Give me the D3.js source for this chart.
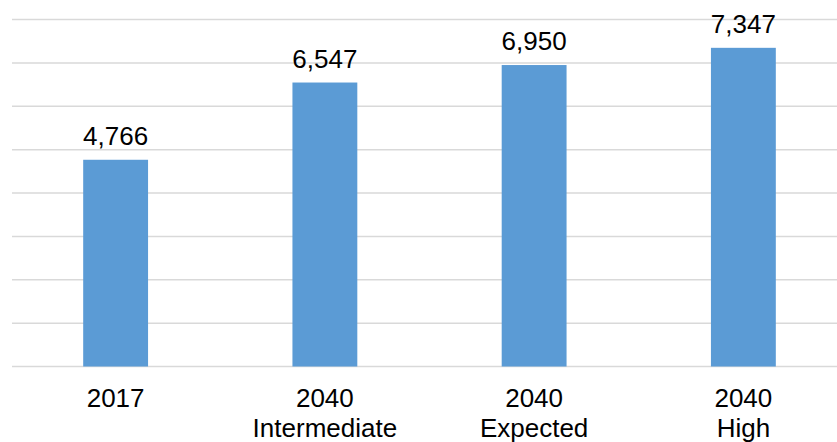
<!DOCTYPE html>
<html>
<head>
<meta charset="utf-8">
<script src="https://cdn.jsdelivr.net/npm/d3@7"></script>
<style>
  html, body { margin: 0; padding: 0; background: #fff; }
  svg { display: block; }
  text { font-family: "Liberation Sans", Arial, sans-serif; fill: #000; }
</style>
</head>
<body>
<svg id="chart" width="837" height="442"></svg>
<script>
// Categories (two-line labels) and values
const categories = ["2017", "2040 Intermediate", "2040 Expected", "2040 High"];
const categoryLines = [["2017"], ["2040", "Intermediate"], ["2040", "Expected"], ["2040", "High"]];
const values = [4766, 6547, 6950, 7347];
const yTicks = [0, 1000, 2000, 3000, 4000, 5000, 6000, 7000, 8000];

const svg = d3.select("#chart");
const W = 837, H = 442;
const plot = { left: 11, right: 848, top: 19.5, bottom: 366.5 };

const x = d3.scaleBand()
  .domain(categories)
  .range([plot.left, plot.right])
  .paddingInner(0.69)
  .paddingOuter(0.345);

const y = d3.scaleLinear()
  .domain([0, 8000])
  .range([plot.bottom, plot.top]);

// Horizontal gridlines
svg.append("g")
  .selectAll("line")
  .data(yTicks)
  .join("line")
  .attr("x1", 12)
  .attr("x2", W)
  .attr("y1", d => y(d))
  .attr("y2", d => y(d))
  .attr("stroke", "#d9d9d9")
  .attr("stroke-width", 1.5);

// Bars
svg.append("g")
  .selectAll("rect")
  .data(values)
  .join("rect")
  .attr("x", (d, i) => x(categories[i]))
  .attr("width", x.bandwidth())
  .attr("y", d => y(d))
  .attr("height", d => y(0) - y(d))
  .attr("fill", "#5b9bd5");

// Value labels
const fmt = d3.format(",");
svg.append("g")
  .selectAll("text")
  .data(values)
  .join("text")
  .attr("x", (d, i) => x(categories[i]) + x.bandwidth() / 2)
  .attr("y", d => y(d) - 15)
  .attr("text-anchor", "middle")
  .attr("font-size", 26)
  .text(d => fmt(d));

// Category labels
const labels = svg.append("g")
  .selectAll("text")
  .data(categoryLines)
  .join("text")
  .attr("x", (d, i) => x(categories[i]) + x.bandwidth() / 2)
  .attr("y", 407)
  .attr("text-anchor", "middle")
  .attr("font-size", 26);

labels.selectAll("tspan")
  .data(d => d)
  .join("tspan")
  .attr("x", function () { return d3.select(this.parentNode).attr("x"); })
  .attr("dy", (d, i) => i === 0 ? 0 : 30)
  .text(d => d);
</script>
</body>
</html>
